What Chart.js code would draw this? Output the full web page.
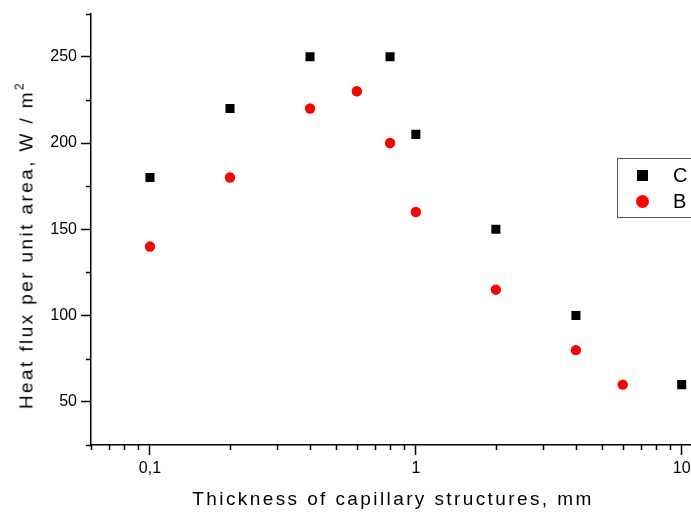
<!DOCTYPE html>
<html>
<head>
<meta charset="utf-8">
<script src="https://cdn.jsdelivr.net/npm/chart.js@4/dist/chart.umd.min.js"></script>
<style>
  html, body { margin: 0; padding: 0; background: #fff; overflow: hidden; }
  #wrap { position: relative; width: 691px; height: 513px; overflow: hidden; }
  canvas { position: absolute; left: 0; top: 0; }
  .title { position: absolute; font-family: "Liberation Sans", Arial, sans-serif; font-size: 19px; color: #000; white-space: nowrap; letter-spacing: 2.4px; }
  #xTitle { left: 393px; top: 499px; transform: translate(-50%, -50%); }
  #yTitle { left: 25px; top: 245px; transform: translate(-50%, -50%) rotate(-90deg); }
  #legend { position: absolute; left: 617px; top: 158px; width: 110px; height: 60px; border: 1px solid #555; box-sizing: border-box; font-family: "Liberation Sans", Arial, sans-serif; font-size: 20px; }
  .item { position: absolute; left: 0; height: 24px; line-height: 24px; }
  .item span { position: absolute; left: 55px; }
  .sym { position: absolute; }
</style>
</head>
<body>
<div id="wrap">
  <canvas id="chart" width="725" height="513"></canvas>
  <div id="yTitle" class="title">Heat flux per unit area, W / m<sup style="font-size:12px;vertical-align:9px">2</sup></div>
  <div id="xTitle" class="title">Thickness of capillary structures, mm</div>
  <div id="legend">
    <div class="sym" style="left:19px;top:11px;width:11px;height:11px;background:#000"></div>
    <div class="item" style="top:4px"><span>C</span></div>
    <div class="sym" style="left:18px;top:36px;width:13px;height:13px;border-radius:50%;background:#f00"></div>
    <div class="item" style="top:30px"><span>B</span></div>
  </div>
</div>
<script>
// data
const thicknessC = [0.1, 0.2, 0.4, 0.8, 1, 2, 4, 10];
const fluxC = [180, 220, 250, 250, 205, 150, 100, 60];
const thicknessB = [0.1, 0.2, 0.4, 0.6, 0.8, 1, 2, 4, 6];
const fluxB = [140, 180, 220, 230, 200, 160, 115, 80, 60];

// axis ticks
const xTickValues = [0.06, 0.07, 0.08, 0.09, 0.1, 0.2, 0.3, 0.4, 0.5, 0.6, 0.7, 0.8, 0.9,
  1, 2, 3, 4, 5, 6, 7, 8, 9, 10];
const xMajor = [0.1, 1, 10];
const xLabels = ["0,1", "1", "10"];

function isMajor(axis, v) {
  if (axis === "x") return xMajor.some(m => Math.abs(m - v) < 1e-9);
  return v % 50 === 0;
}

// short minor ticks, drawn outside the axes
const minorTicks = {
  id: "minorTicks",
  afterDraw(chart) {
    const ctx = chart.ctx;
    const area = chart.chartArea;
    ctx.save();
    ctx.strokeStyle = "#000";
    ctx.lineWidth = 1.5;
    chart.scales.x.ticks.forEach(t => {
      if (isMajor("x", t.value)) return;
      const px = Math.round(chart.scales.x.getPixelForValue(t.value)) + 0.5;
      ctx.beginPath();
      ctx.moveTo(px, area.bottom);
      ctx.lineTo(px, area.bottom + 5);
      ctx.stroke();
    });
    chart.scales.y.ticks.forEach(t => {
      if (isMajor("y", t.value)) return;
      const py = Math.round(chart.scales.y.getPixelForValue(t.value)) + 0.5;
      ctx.beginPath();
      ctx.moveTo(area.left, py);
      ctx.lineTo(area.left - 5, py);
      ctx.stroke();
    });
    ctx.restore();
  }
};

const ctx = document.getElementById("chart").getContext("2d");
new Chart(ctx, {
  type: "scatter",
  data: {
    datasets: [
      {
        label: "C",
        data: thicknessC.map((x, i) => ({ x: x, y: fluxC[i] })),
        pointStyle: "rect",
        pointRadius: 6.4,
        pointBorderWidth: 0,
        backgroundColor: "#000",
        borderColor: "#000"
      },
      {
        label: "B",
        data: thicknessB.map((x, i) => ({ x: x, y: fluxB[i] })),
        pointStyle: "circle",
        pointRadius: 5.2,
        pointBorderWidth: 0,
        backgroundColor: "#f00",
        borderColor: "#f00"
      }
    ]
  },
  options: {
    responsive: false,
    animation: false,
    devicePixelRatio: 1,
    layout: { padding: { left: 0, top: 11, right: 13, bottom: 0 } },
    plugins: {
      legend: { display: false },
      tooltip: { enabled: false }
    },
    scales: {
      x: {
        type: "logarithmic",
        min: 0.06,
        max: 13,
        afterBuildTicks: scale => {
          scale.ticks = xTickValues.map(v => ({ value: v }));
        },
        afterFit: scale => { scale.height = 68; },
        border: { display: true, color: "#000", width: 1.5 },
        grid: {
          drawOnChartArea: false,
          drawTicks: true,
          tickLength: 10,
          tickWidth: 1.5,
          tickColor: c => (c.tick && isMajor("x", c.tick.value)) ? "#000" : "rgba(0,0,0,0)"
        },
        ticks: {
          autoSkip: false,
          maxRotation: 0,
          padding: 4,
          color: "#000",
          font: { family: "'Liberation Sans', Arial, sans-serif", size: 16 },
          callback: v => {
            const i = xMajor.findIndex(m => Math.abs(m - v) < 1e-9);
            return i >= 0 ? xLabels[i] : "";
          }
        }
      },
      y: {
        type: "linear",
        min: 25,
        max: 275,
        afterFit: scale => { scale.width = 91; },
        border: { display: true, color: "#000", width: 1.5 },
        grid: {
          drawOnChartArea: false,
          drawTicks: true,
          tickLength: 10,
          tickWidth: 1.5,
          tickColor: c => (c.tick && isMajor("y", c.tick.value)) ? "#000" : "rgba(0,0,0,0)"
        },
        ticks: {
          stepSize: 25,
          padding: 4,
          color: "#000",
          font: { family: "'Liberation Sans', Arial, sans-serif", size: 16 },
          callback: v => (v % 50 === 0 ? String(v) : "")
        }
      }
    }
  },
  plugins: [minorTicks]
});
</script>
</body>
</html>
